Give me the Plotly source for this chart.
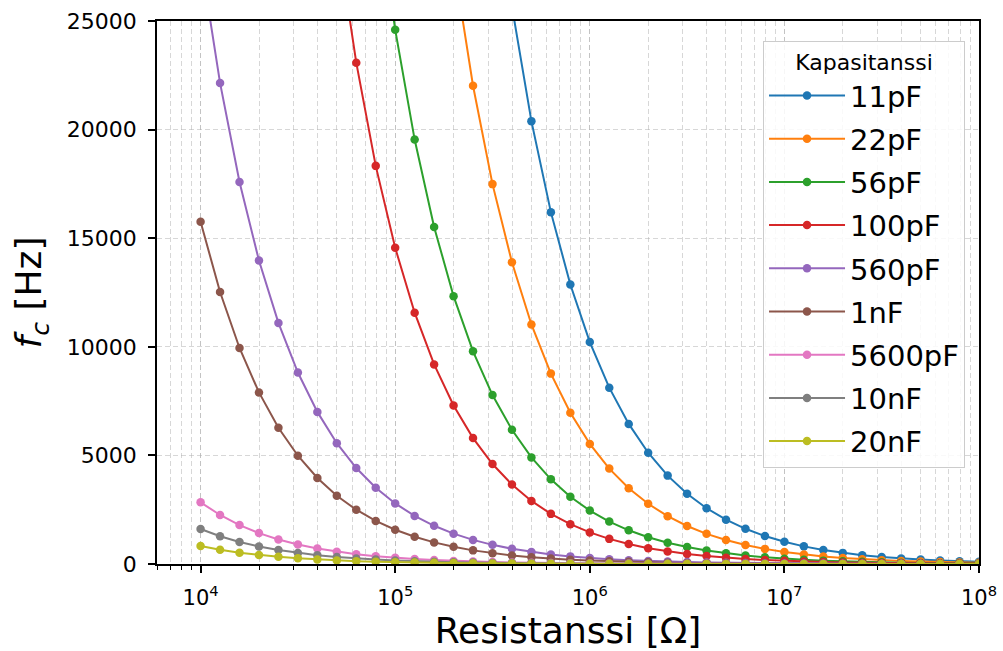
import plotly.graph_objects as go

# Resistance values (ohm), 10 points per decade from 1e4 to 1e8
resistance = [10000, 12589, 15849, 19953, 25119, 31623, 39811, 50119, 63096, 79433,
              100000, 125893, 158489, 199526, 251189, 316228, 398107, 501187, 630957, 794328,
              1000000, 1258925, 1584893, 1995262, 2511886, 3162278, 3981072, 5011872, 6309573, 7943282,
              10000000, 12589254, 15848932, 19952623, 25118864, 31622777, 39810717, 50118723, 63095734, 79432823,
              100000000]

labels = ["11pF", "22pF", "56pF", "100pF", "560pF", "1nF", "5600pF", "10nF", "20nF"]

f_11pF = [1022000, 811800, 644900, 512200, 406900, 323200, 256700, 203900, 162000, 128700,
          102200, 81180, 64490, 51220, 40690, 32320, 25670, 20390, 16200, 12870,
          10220, 8118, 6449, 5122, 4069, 3232, 2567, 2039, 1620, 1287,
          1022, 811.8, 644.9, 512.2, 406.9, 323.2, 256.7, 203.9, 162.0, 128.7,
          102.2]
f_22pF = [553000, 439300, 348900, 277200, 220200, 174900, 138900, 110300, 87650, 69620,
          55300, 43930, 34890, 27720, 22020, 17490, 13890, 11030, 8765, 6962,
          5530, 4393, 3489, 2772, 2202, 1749, 1389, 1103, 876.5, 696.2,
          553.0, 439.3, 348.9, 277.2, 220.2, 174.9, 138.9, 110.3, 87.65, 69.62,
          55.3]
f_56pF = [246000, 195400, 155200, 123300, 97930, 77790, 61800, 49080, 38990, 30970,
          24600, 19540, 15520, 12330, 9793, 7779, 6180, 4908, 3899, 3097,
          2460, 1954, 1552, 1233, 979.3, 777.9, 618.0, 490.8, 389.9, 309.7,
          246.0, 195.4, 155.2, 123.3, 97.9, 77.8, 61.8, 49.1, 39.0, 31.0,
          24.6]
f_100pF = [145600, 115700, 91870, 72970, 57960, 46040, 36570, 29050, 23080, 18330,
           14560, 11570, 9187, 7297, 5796, 4604, 3657, 2905, 2308, 1833,
           1456, 1157, 918.7, 729.7, 579.6, 460.4, 365.7, 290.5, 230.8, 183.3,
           145.6, 115.7, 91.9, 73.0, 58.0, 46.0, 36.6, 29.1, 23.1, 18.3,
           14.6]
f_560pF = [27880, 22150, 17590, 13970, 11100, 8816, 7003, 5563, 4419, 3510,
           2788, 2215, 1759, 1397, 1110, 881.6, 700.3, 556.3, 441.9, 351.0,
           278.8, 221.5, 175.9, 139.7, 111.0, 88.2, 70.0, 55.6, 44.2, 35.1,
           27.9, 22.2, 17.6, 14.0, 11.1, 8.8, 7.0, 5.6, 4.4, 3.5,
           2.8]
f_1nF = [15760, 12520, 9945, 7899, 6274, 4984, 3959, 3144, 2498, 1984,
         1576, 1252, 994.5, 789.9, 627.4, 498.4, 395.9, 314.4, 249.8, 198.4,
         157.6, 125.2, 99.5, 79.0, 62.7, 49.8, 39.6, 31.4, 25.0, 19.8,
         15.8, 12.5, 9.9, 7.9, 6.3, 5.0, 4.0, 3.1, 2.5, 2.0,
         1.6]
f_5600pF = [2840, 2256, 1792, 1423, 1131, 898.1, 713.4, 566.6, 450.1, 357.5,
            284.0, 225.6, 179.2, 142.3, 113.1, 89.8, 71.3, 56.7, 45.0, 35.8,
            28.4, 22.6, 17.9, 14.2, 11.3, 9.0, 7.1, 5.7, 4.5, 3.6,
            2.8, 2.3, 1.8, 1.4, 1.1, 0.9, 0.7, 0.6, 0.5, 0.4,
            0.3]
f_10nF = [1611, 1280, 1017, 807.4, 641.3, 509.4, 404.7, 321.4, 255.3, 202.8,
          161.1, 128.0, 101.7, 80.7, 64.1, 50.9, 40.5, 32.1, 25.5, 20.3,
          16.1, 12.8, 10.2, 8.1, 6.4, 5.1, 4.0, 3.2, 2.6, 2.0,
          1.6, 1.3, 1.0, 0.8, 0.6, 0.5, 0.4, 0.3, 0.3, 0.2,
          0.16]
f_20nF = [829, 658.5, 523.1, 415.5, 330.0, 262.1, 208.2, 165.4, 131.4, 104.4,
          82.9, 65.9, 52.3, 41.6, 33.0, 26.2, 20.8, 16.5, 13.1, 10.4,
          8.3, 6.6, 5.2, 4.2, 3.3, 2.6, 2.1, 1.7, 1.3, 1.0,
          0.8, 0.7, 0.5, 0.4, 0.3, 0.3, 0.2, 0.2, 0.1, 0.1,
          0.08]

series = [f_11pF, f_22pF, f_56pF, f_100pF, f_560pF, f_1nF, f_5600pF, f_10nF, f_20nF]
colors = ["#1f77b4", "#ff7f0e", "#2ca02c", "#d62728", "#9467bd",
          "#8c564b", "#e377c2", "#7f7f7f", "#bcbd22"]

FONT = "DejaVu Sans"
GRID = "rgba(176,176,176,0.5)"

fig = go.Figure()
for i, (lab, vals, col) in enumerate(zip(labels, series, colors)):
    fig.add_trace(go.Scatter(
        x=resistance, y=vals, name=lab, mode="lines+markers",
        line=dict(color=col, width=2),
        marker=dict(color=col, size=8.5),
        legendgroup=f"g{i}",
        cliponaxis=True,
    ))

tickvals = [1e4, 1e5, 1e6, 1e7, 1e8]
ticktext = ["10<sup>4</sup>", "10<sup>5</sup>", "10<sup>6</sup>", "10<sup>7</sup>", "10<sup>8</sup>"]

fig.update_layout(
    width=1003, height=651,
    margin=dict(l=157, r=24, t=21, b=87),
    paper_bgcolor="white", plot_bgcolor="white",
    font=dict(family=FONT, color="black"),
    showlegend=True,
    legend=dict(
        x=0.983, xanchor="right", y=0.964, yanchor="top",
        bgcolor="rgba(255,255,255,0.85)", bordercolor="#cccccc", borderwidth=1,
        font=dict(family=FONT, size=29),
        title=dict(text="Kapasitanssi", side="top center", font=dict(family=FONT, size=22)),
        tracegroupgap=2.5, itemwidth=76,
    ),
    xaxis=dict(
        type="log", range=[3.776, 8.0],
        tickvals=tickvals, ticktext=ticktext,
        tickfont=dict(family=FONT, size=21),
        ticks="outside", ticklen=7, tickwidth=1.5, tickcolor="black",
        ticklabelstandoff=7,
        showline=True, linecolor="black", linewidth=1.5, mirror=True,
        showgrid=True, gridcolor=GRID, griddash="5px,3px", gridwidth=1.3,
        minor=dict(ticks="outside", ticklen=4, tickwidth=1.2, tickcolor="black",
                   showgrid=True, gridcolor=GRID, griddash="5px,3px", gridwidth=1.3,
                   dtick="D1"),
        title=dict(text="Resistanssi [Ω]", font=dict(family=FONT, size=36), standoff=10),
        automargin=False, zeroline=False,
    ),
    yaxis=dict(
        range=[0, 25000], dtick=5000, tickformat="d",
        tickfont=dict(family=FONT, size=22),
        ticks="outside", ticklen=7, tickwidth=1.5, tickcolor="black",
        ticklabelstandoff=7,
        showline=True, linecolor="black", linewidth=1.5, mirror=True,
        showgrid=True, gridcolor=GRID, griddash="5px,3px", gridwidth=1.3,
        title=dict(text="<i>f<sub>c</sub></i> [Hz]", font=dict(family=FONT, size=36), standoff=14),
        automargin=False, zeroline=False,
    ),
)

fig.write_html("out.html")
